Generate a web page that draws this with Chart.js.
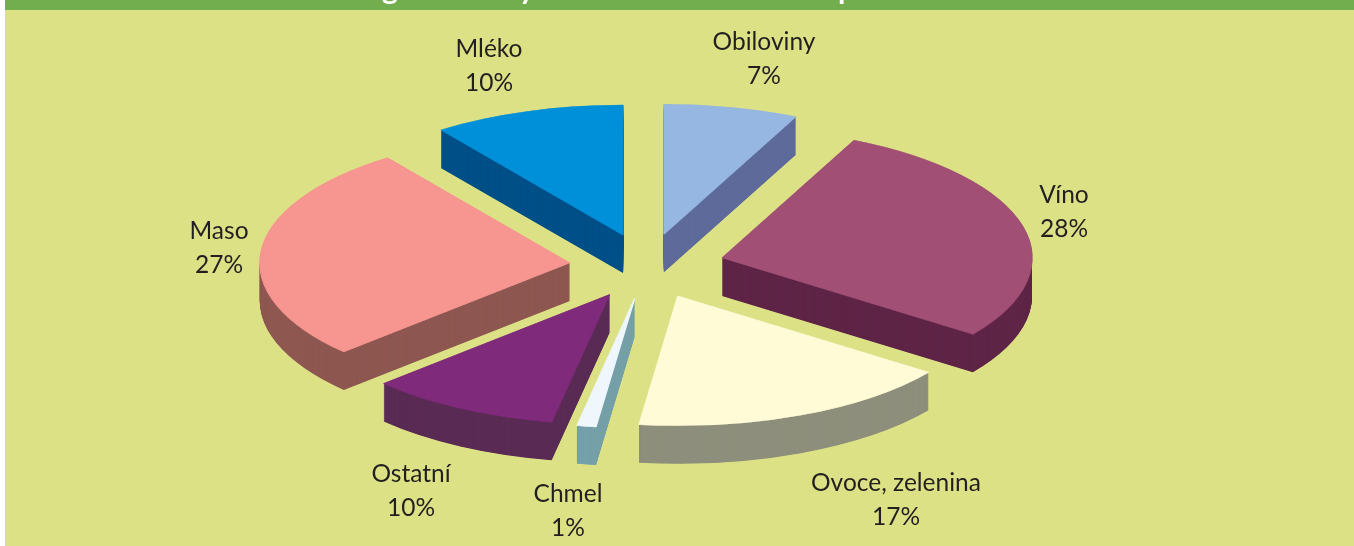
<!DOCTYPE html>
<html>
<head>
<meta charset="utf-8">
<title>Pie</title>
<script src="https://cdn.jsdelivr.net/npm/chart.js@4"></script>
<style>
html, body { margin: 0; padding: 0; background: #fff; overflow: hidden; }
canvas { display: block; }
</style>
</head>
<body>
<canvas id="chart" width="1354" height="546"></canvas>
<script>
'use strict';

var categories = ['Obiloviny', 'Víno', 'Ovoce, zelenina', 'Chmel', 'Ostatní', 'Maso', 'Mléko'];
var shares = [7, 28, 17, 1, 10, 27, 10];
var topColors = ['#95b7e1', '#a14f75', '#fffbd6', '#eff7fd', '#7f2a7a', '#f79590', '#0090d9'];
var sideColors = ['#5d6a9a', '#5f2547', '#8e8f7c', '#76a0a8', '#5a2c55', '#8e5851', '#005088'];

// only the descenders of the cut off heading are left in the picture
var headingLetters = ['g', 'y', 'p'];
var headingLetterX = [382, 519, 838];

// label centres, relative to the pie centre
var labelOffsetX = [117, 417, 249, -79, -236, -428, -158];
var labelOffsetY = [-207, -54, 234, 245, 225, -18, -200];

var pieCenterX = 647;
var pieCenterY = 266;
var pieRadiusX = 310;
var pieRadiusY = 130;
var pieDepth = 38;
var explode = 0.25; // of the radius

function drawSlice(ctx, arc, color, drop, border) {
    var mid = (arc.startAngle + arc.endAngle) / 2;
    var d = arc.outerRadius * explode;
    ctx.save();
    ctx.translate(pieCenterX, pieCenterY + drop);
    ctx.scale(pieRadiusX / arc.outerRadius, pieRadiusY / arc.outerRadius);
    ctx.translate(Math.cos(mid) * d - arc.x, Math.sin(mid) * d - arc.y);
    var copy = Object.create(arc);
    copy.options = Object.assign({}, arc.options, { backgroundColor: color, borderColor: color, borderWidth: border });
    copy.draw(ctx);
    ctx.restore();
}

var tiltedPie = {
    id: 'tiltedPie',
    beforeDraw: function(chart) {
        var ctx = chart.ctx;
        ctx.save();
        ctx.fillStyle = '#ffffff';
        ctx.fillRect(0, 0, chart.width, chart.height);
        ctx.fillStyle = '#dce185';
        ctx.fillRect(5, 0, chart.width - 5, chart.height);
        ctx.fillStyle = '#72ae4e';
        ctx.fillRect(5, 0, chart.width - 5, 10);
        ctx.beginPath();
        ctx.rect(5, 0, chart.width - 5, 10);
        ctx.clip();
        ctx.fillStyle = '#ffffff';
        ctx.font = 'bold 30px Lato';
        ctx.textAlign = 'left';
        ctx.textBaseline = 'alphabetic';
        for (var i = 0; i < headingLetters.length; i++) {
            ctx.fillText(headingLetters[i], headingLetterX[i], -1);
        }
        ctx.restore();
    },
    beforeDatasetsDraw: function(chart) {
        var ctx = chart.ctx;
        var arcs = chart.getDatasetMeta(0).data;
        var i, drop;
        for (i = 0; i < arcs.length; i++) {
            for (drop = pieDepth; drop > 0; drop -= 0.5) {
                drawSlice(ctx, arcs[i], sideColors[i], drop, 0);
            }
        }
        for (i = 0; i < arcs.length; i++) {
            drawSlice(ctx, arcs[i], topColors[i], 0, 1);
        }
        return false;
    },
    afterDraw: function(chart) {
        var ctx = chart.ctx;
        ctx.save();
        ctx.fillStyle = '#231f20';
        ctx.font = '24.5px Lato';
        ctx.textAlign = 'center';
        ctx.textBaseline = 'middle';
        for (var i = 0; i < categories.length; i++) {
            var x = pieCenterX + labelOffsetX[i];
            var y = pieCenterY + labelOffsetY[i];
            ctx.fillText(categories[i], x, y - 17);
            ctx.fillText(shares[i] + '%', x, y + 17);
        }
        ctx.restore();
    }
};

new Chart(document.getElementById('chart'), {
    type: 'pie',
    data: {
        labels: categories,
        datasets: [{
            data: shares,
            backgroundColor: topColors,
            borderWidth: 0
        }]
    },
    options: {
        responsive: false,
        animation: false,
        events: [],
        plugins: {
            legend: { display: false },
            tooltip: { enabled: false }
        }
    },
    plugins: [tiltedPie]
});
</script>
</body>
</html>
